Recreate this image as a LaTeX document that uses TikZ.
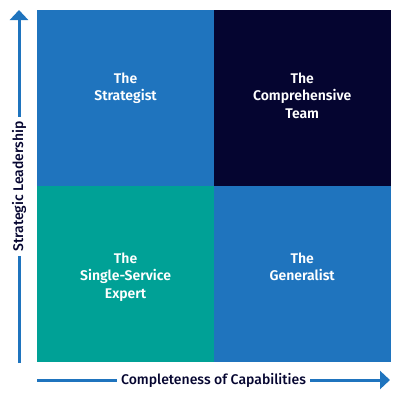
\documentclass[tikz,border=0pt]{standalone}
\usepackage{fontspec}
\setmainfont{Fira Sans}[BoldFont={Fira Sans SemiBold}]
\newfontfamily\axisfont{Fira Sans Medium}
\usepackage{tikz}
\usetikzlibrary{positioning, arrows.meta}
\usepackage{xcolor}
\definecolor{qblue}{RGB}{31,116,190}
\definecolor{qnavy}{RGB}{5,5,48}
\definecolor{qteal}{RGB}{0,161,150}

\begin{document}
\begin{tikzpicture}[x=1pt, y=-1pt, >={Triangle[width=18pt, length=10pt]},
    quad/.style={rectangle, fill=#1, draw=#1, line width=0.6pt, minimum width=176pt, minimum height=175pt, inner sep=0pt, anchor=north west},
    quadtext/.style={text=white, font=\fontsize{14}{17.5}\selectfont\bfseries, align=center, anchor=north},
    axis/.style={->, draw=qblue, line width=3pt},
    axislabel/.style={fill=white, text=qnavy, font=\fontsize{14}{15}\axisfont, inner sep=4pt}]
      \useasboundingbox (0,0) rectangle (400,400);
      % quadrants
      \node[quad=qblue] (strat) at (37.3,10.3) {};
      \node[quad=qnavy, right=0pt of strat.north east, anchor=north west] (team) {};
      \node[quad=qteal, below=0pt of strat.south west, anchor=north west] (expert) {};
      \node[quad=qblue, right=0pt of expert.north east, anchor=north west] (gen) {};
      \node[quadtext, below=59pt of strat.north] (stratlbl) {The\\Strategist};
      \node[quadtext, below=59pt of team.north] (teamlbl) {The\\Comprehensive\\Team};
      \node[quadtext, below=63pt of expert.north] (expertlbl) {The\\Single-Service\\Expert};
      \node[quadtext, below=63pt of gen.north] (genlbl) {The\\Generalist};
      % axes
      \coordinate (yfrom) at (19,363);
      \coordinate (yto) at (19,10);
      \coordinate (xfrom) at (37,380);
      \coordinate (xto) at (390,380);
      \draw[axis] (yfrom) -- (yto) node[axislabel, midway, rotate=90] (ylbl) {Strategic Leadership};
      \draw[axis] (xfrom) -- (xto) node[axislabel, midway] (xlbl) {Completeness of Capabilities};
    \end{tikzpicture}
\end{document}
